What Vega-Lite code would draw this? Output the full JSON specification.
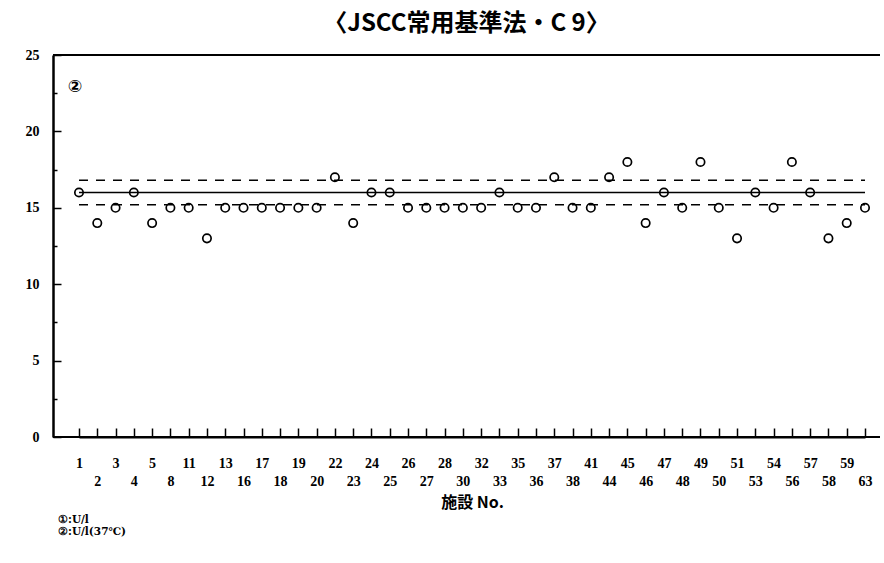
{
  "$schema": "https://vega.github.io/schema/vega-lite/v6.json",
  "width": 827,
  "height": 382,
  "autosize": {"type": "none"},
  "padding": {"left": 53, "top": 55, "right": 4, "bottom": 126},
  "background": "white",
  "title": {
    "text": "〈JSCC常用基準法・C 9〉",
    "font": "Noto Sans CJK JP",
    "fontSize": 24,
    "fontWeight": "bold",
    "anchor": "middle",
    "offset": 12,
    "color": "black"
  },
  "config": {
    "view": {"stroke": null},
    "axis": {"domainColor": "black", "tickColor": "black", "labelColor": "black", "titleColor": "black", "grid": false}
  },
  "resolve": {"scale": {"y": "shared"}, "axis": {"y": "independent"}},
  "data": {
    "values": [
      {"no": "1", "u": 16}, {"no": "2", "u": 14}, {"no": "3", "u": 15}, {"no": "4", "u": 16},
      {"no": "5", "u": 14}, {"no": "8", "u": 15}, {"no": "11", "u": 15}, {"no": "12", "u": 13},
      {"no": "13", "u": 15}, {"no": "16", "u": 15}, {"no": "17", "u": 15}, {"no": "18", "u": 15},
      {"no": "19", "u": 15}, {"no": "20", "u": 15}, {"no": "22", "u": 17}, {"no": "23", "u": 14},
      {"no": "24", "u": 16}, {"no": "25", "u": 16}, {"no": "26", "u": 15}, {"no": "27", "u": 15},
      {"no": "28", "u": 15}, {"no": "30", "u": 15}, {"no": "32", "u": 15}, {"no": "33", "u": 16},
      {"no": "35", "u": 15}, {"no": "36", "u": 15}, {"no": "37", "u": 17}, {"no": "38", "u": 15},
      {"no": "41", "u": 15}, {"no": "44", "u": 17}, {"no": "45", "u": 18}, {"no": "46", "u": 14},
      {"no": "47", "u": 16}, {"no": "48", "u": 15}, {"no": "49", "u": 18}, {"no": "50", "u": 15},
      {"no": "51", "u": 13}, {"no": "53", "u": 16}, {"no": "54", "u": 15}, {"no": "56", "u": 18},
      {"no": "57", "u": 16}, {"no": "58", "u": 13}, {"no": "59", "u": 14}, {"no": "63", "u": 15}
    ]
  },
  "layer": [
    {
      "mark": {"type": "point", "shape": "circle", "filled": false, "size": 70, "strokeWidth": 1.7, "color": "black", "opacity": 1, "fill": "white", "fillOpacity": 1},
      "encoding": {
        "x": {
          "field": "no",
          "type": "ordinal",
          "sort": null,
          "scale": {
            "type": "point",
            "domain": ["1","2","3","4","5","8","11","12","13","16","17","18","19","20","22","23","24","25","26","27","28","30","32","33","35","36","37","38","41","44","45","46","47","48","49","50","51","53","54","56","57","58","59","63"],
            "range": [26, 812],
            "padding": 0
          },
          "axis": {
            "domain": true,
            "domainWidth": 2,
            "ticks": true,
            "title": "施設 No.",
            "titleFont": "Noto Sans CJK JP",
            "titleFontSize": 16,
            "titleFontWeight": "bold",
            "titlePadding": 6,
            "labelAngle": 0,
            "labelFont": "Liberation Serif",
            "labelFontSize": 14,
            "labelFontWeight": "bold",
            "labelBaseline": "top",
            "labelOverlap": false,
            "labelLineHeight": 18,
            "labelExpr": "indexof(['2','4','8','12','16','18','20','23','25','27','30','33','36','38','44','46','48','50','53','56','58','63'], datum.value) >= 0 ? ['', datum.label] : datum.label",
            "labelPadding": 28,
            "tickSize": -9,
            "tickWidth": 1.5
          }
        },
        "y": {
          "field": "u",
          "type": "quantitative",
          "scale": {"domain": [0, 25], "nice": false, "zero": true},
          "axis": {
            "orient": "left",
            "domain": true,
            "title": null,
            "values": [0, 5, 10, 15, 20, 25],
            "format": "d",
            "labelOverlap": false,
            "tickSize": -8,
            "labelPadding": 22,
            "domainWidth": 2.5,
            "tickWidth": 1.5,
            "labelFont": "Liberation Serif",
            "labelFontSize": 14,
            "labelFontWeight": "bold"
          }
        }
      }
    },
    {
      "data": {"values": [{"v": 16.0, "k": "mean"}, {"v": 16.8, "k": "upper"}, {"v": 15.2, "k": "lower"}]},
      "mark": {"type": "rule", "color": "black", "strokeWidth": 1.6},
      "encoding": {
        "x": {"datum": "1", "type": "ordinal"},
        "x2": {"datum": "63"},
        "y": {
          "field": "v",
          "type": "quantitative",
          "axis": {
            "orient": "left",
            "domain": false,
            "title": null,
            "labels": false,
            "values": [2.5, 7.5, 12.5, 17.5, 22.5],
            "tickSize": -4,
            "tickWidth": 1.5
          }
        },
        "strokeDash": {
          "field": "k",
          "type": "nominal",
          "scale": {"domain": ["mean", "upper", "lower"], "range": [[1, 0], [9, 8], [9, 8]]},
          "legend": null
        }
      }
    },
    {
      "data": {"values": [{"b": 25}, {"b": 0}]},
      "mark": {"type": "rule", "strokeWidth": 2, "color": "black"},
      "encoding": {"y": {"field": "b", "type": "quantitative", "axis": null}}
    },
    {
      "data": {"values": [{"t": "②"}]},
      "mark": {"type": "text", "font": "DejaVu Sans", "fontSize": 17, "fontWeight": "bold", "color": "black", "dx": -4},
      "encoding": {
        "x": {"datum": "1", "type": "ordinal"},
        "y": {"datum": 22.9, "type": "quantitative", "axis": null},
        "text": {"field": "t"}
      }
    },
    {
      "data": {"values": [{"t": "①:U/l", "p": -5.45}, {"t": "②:U/l(37℃)", "p": -6.22}]},
      "mark": {"type": "text", "font": "DejaVu Serif", "fontSize": 10.5, "fontWeight": "bold", "color": "black", "align": "left", "dx": -21},
      "encoding": {
        "x": {"datum": "1", "type": "ordinal"},
        "y": {"field": "p", "type": "quantitative", "axis": null},
        "text": {"field": "t"}
      }
    }
  ]
}
